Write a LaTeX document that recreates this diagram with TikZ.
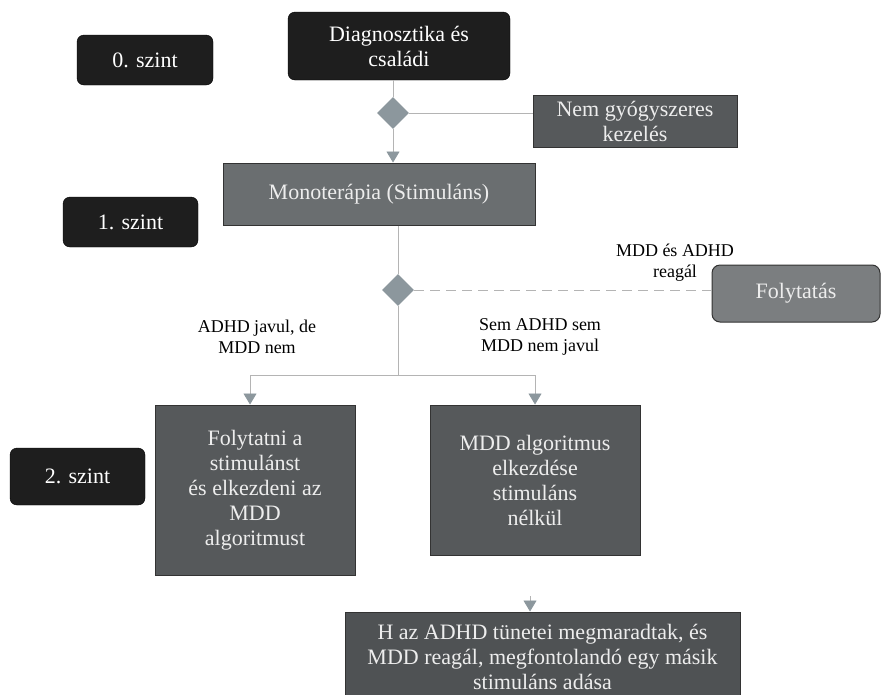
\documentclass[tikz,border=0pt]{standalone}
\usepackage{fontspec}
\setmainfont{Liberation Serif}
\newfontfamily\diafont{Liberation Serif}
\usetikzlibrary{shapes.geometric,arrows.meta}
\definecolor{blackbox}{HTML}{1E1E1E}
\definecolor{greybox}{HTML}{56595B}
\definecolor{monobox}{HTML}{6A6E70}
\definecolor{folybox}{HTML}{7B7E80}
\definecolor{linec}{HTML}{B4B4B4}
\definecolor{dia}{HTML}{8C979D}
\definecolor{boxtext}{HTML}{EDEDED}
\tikzset{
  darkbox/.style={draw=black, fill=blackbox, rounded corners=7pt, text=white, align=center, inner sep=0pt, font=\diafont\fontsize{22}{25}\selectfont},
  greyrect/.style={draw=black!80, line width=1pt, fill=greybox, text=boxtext, align=center, inner sep=0pt, font=\diafont\fontsize{22}{25}\selectfont},
  decision/.style={diamond, fill=dia, draw=none, minimum width=32pt, minimum height=32pt, inner sep=0pt},
  conn/.style={draw=linec, line width=0.8pt},
  arr/.style={conn, -{Triangle[width=13pt,length=11pt,color=dia]}},
  lbl/.style={align=center, font=\diafont\fontsize{18}{21}\selectfont, inner sep=0pt}
}
\begin{document}
\begin{tikzpicture}[x=1pt,y=-1pt]
\useasboundingbox[fill=white] (0,0) rectangle (888,694);
% level labels
\node[darkbox, minimum width=136pt, minimum height=50pt] (lvl0) at (145,60) {0. szint};
\node[darkbox, minimum width=135pt, minimum height=50pt] (lvl1) at (130.5,222) {1. szint};
\node[darkbox, minimum width=135pt, minimum height=57pt] (lvl2) at (77.5,476.5) {2. szint};
% main nodes
\node[darkbox, minimum width=222pt, minimum height=68pt] (diag) at (399,46) {Diagnosztika és\\családi};
\node[decision] (d1) at (393,113) {};
\node[greyrect, fill=greybox, minimum width=204pt, minimum height=52pt] (nongy) at (635,121) {Nem gyógyszeres\\kezelés};
\node[greyrect, fill=monobox, minimum width=312pt, minimum height=62pt] (mono) at (379,194) {Monoterápia (Stimuláns)};
\node[decision] (d2) at (398,290) {};
\node[greyrect, fill=folybox, rounded corners=8pt, minimum width=168pt, minimum height=57pt] (folyt) at (796,293.5) {Folytatás};
\node[lbl] (reagal) at (675,263) {MDD és ADHD\\reagál};
\coordinate (split) at (398,375);
\coordinate (splitL) at (250,375);
\coordinate (splitR) at (535,375);
\node[lbl] (lab1) at (257,337) {ADHD javul, de\\MDD nem};
\node[lbl] (lab2) at (540,337) {Sem ADHD sem\\MDD nem javul};
\node[greyrect, minimum width=200pt, minimum height=170pt] (boxa) at (255,490) {Folytatni a\\stimulánst\\és elkezdeni az\\MDD\\algoritmust};
\node[greyrect, minimum width=210pt, minimum height=150pt] (boxb) at (535,480) {MDD algoritmus\\elkezdése\\stimuláns\\nélkül};
\node[greyrect, fill=greybox!92!black, minimum width=395pt, minimum height=90pt] (boxc) at (542.5,657) {H az ADHD tünetei megmaradtak, és\\MDD reagál, megfontolandó egy másik\\stimuláns adása};
\coordinate (cstart) at (530,596);
% connectors
\draw[conn] (diag.south -| d1) -- (d1.north);
\draw[arr] (d1.south) -- (d1.south |- mono.north);
\draw[conn] (d1.east) -- (nongy.west |- d1);
\draw[conn] (mono.south -| d2) -- (d2.north);
\draw[conn, dash pattern=on 10pt off 6pt] (d2.east) -- (folyt.west |- d2);
\draw[conn] (d2.south) -- (split);
\draw[conn] (splitL) -- (splitR);
\draw[arr] (splitL) -- (splitL |- boxa.north);
\draw[arr] (splitR) -- (splitR |- boxb.north);
\draw[arr] (cstart) -- (cstart |- boxc.north);
\end{tikzpicture}
\end{document}
